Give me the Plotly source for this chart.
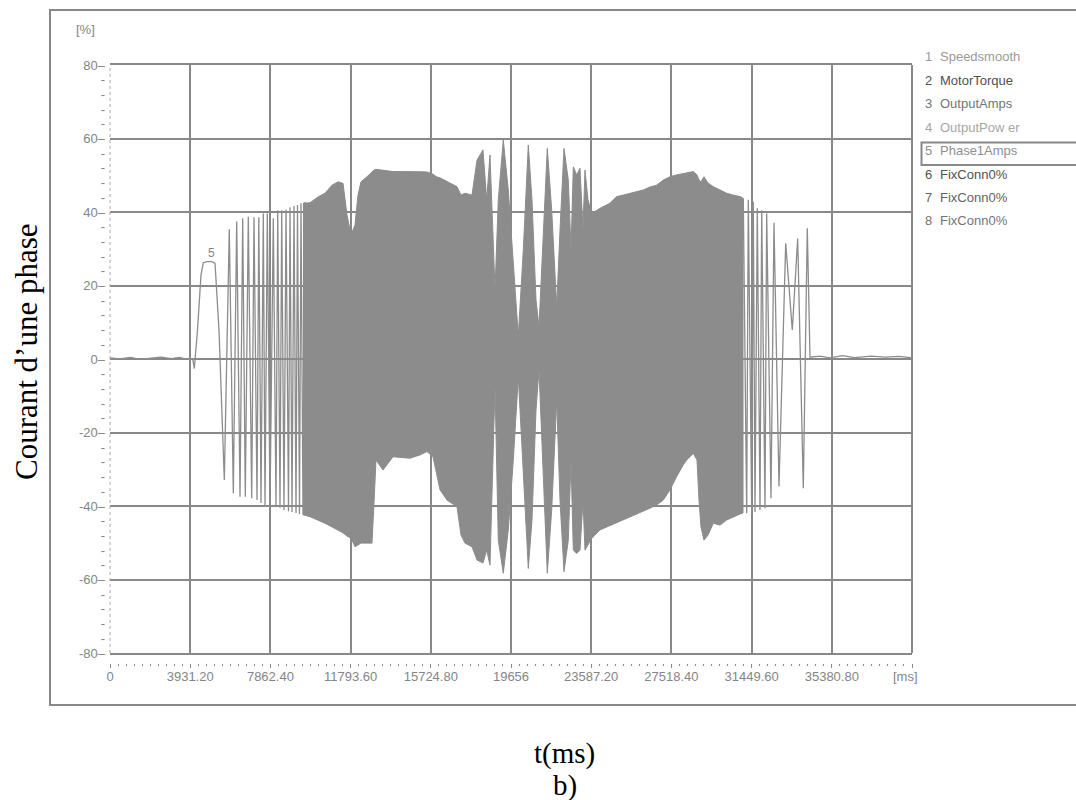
import plotly.graph_objects as go

# ---------------- data ----------------
X_MAX = 39312.0
x_tick_vals = [0, 3931.2, 7862.4, 11793.6, 15724.8, 19656, 23587.2, 27518.4, 31449.6, 35380.8, 39312]
x_tick_text = ["0", "3931.20", "7862.40", "11793.60", "15724.80", "19656",
               "23587.20", "27518.40", "31449.60", "35380.80", ""]
x_unit = "[ms]"
y_unit = "[%]"
y_major_vals = [-80, -60, -40, -20, 0, 20, 40, 60, 80]
y_major_text = ["-80", "-60", "-40", "-20", "0", "20", "40", "60", "80"]

legend_nums = ["1", "2", "3", "4", "5", "6", "7", "8"]
legend_names = ["Speedsmooth", "MotorTorque", "OutputAmps", "OutputPow er",
                "Phase1Amps", "FixConn0%", "FixConn0%", "FixConn0%"]
legend_colors = ["#9a9a9a", "#505050", "#747474", "#a6a6a6",
                 "#8e8e8e", "#505050", "#626262", "#747474"]

# sparse start of the signal (extrema), time in ms, value in %
left_t = [0, 500, 1000, 1500, 2000, 2500, 3000, 3400, 3700, 4054,
          4132, 4289, 4461, 4574, 4755, 4985, 5147, 5343,
          5603, 5848, 6044, 6211, 6373, 6505, 6632, 6779, 6946, 7059,
          7206, 7294, 7402, 7515, 7598, 7711, 7843, 8005, 8137, 8221,
          8333, 8417, 8529, 8628, 8750, 8824, 8922, 9020, 9118, 9191,
          9289, 9363, 9461, 9559]
left_v = [0.3, 0.0, 0.4, -0.1, 0.2, 0.5, 0.1, 0.4, 0.0, 0.0,
          -2.6, 7.9, 22.9, 26.2, 26.5, 26.5, 26.1, 7.9,
          -32.9, 35.3, -36.5, 37.4, -37.5, 38.3, -37.5, 38.7, -37.9, 38.6,
          -38.4, 38.6, -39.2, 39.6, -39.7, 39.6, -39.7, 38.3, -39.7, 40.5,
          -40.5, 40.5, -41.1, 40.7, -41.4, 41.3, -41.6, 41.6, -41.9, 41.9,
          -42.2, 42.4, -42.4, 42.7]

# dense part: upper and lower envelope of the oscillation
dense_t = [9460, 9803, 10196, 10539, 10882, 11176, 11421, 11617, 11813, 12009,
           12156, 12303, 12597, 12842, 12940, 13039, 13382, 13872, 14705, 15195,
           15538, 15832, 16029, 16176, 16519, 17009, 17205, 17401, 17744, 17989,
           18283, 18465, 18626, 18872, 19033, 19278, 19523, 19769, 20014, 20259,
           20504, 20685, 20881, 21028, 21239, 21435, 21651, 21896, 22058, 22254,
           22464, 22597, 22710, 22876, 23038, 23185, 23283, 23430, 23612, 24018,
           24509, 24837, 25161, 25489, 25817, 26141, 26469, 26798, 27121, 27450,
           27778, 28101, 28268, 28592, 28773, 28871, 28969, 29116, 29312, 29572,
           29900, 30229, 30552, 30881, 31028]
dense_up = [42.4, 42.5, 44.1, 45.1, 47.3, 48.2, 47.8, 39.2, 33.8, 36.5,
            44.6, 48.2, 49.6, 50.9, 51.4, 51.6, 51.4, 51.0, 51.0, 51.0,
            50.9, 50.3, 49.5, 49.3, 48.4, 46.9, 44.6, 45.1, 44.6, 54.1,
            56.9, 43.3, 55.5, 18.8, 43.3, 59.6, 46.0, 26.9, 6.3, 29.7,
            58.2, 43.3, 16.1, 8.7, 32.4, 57.3, 40.5, 14.2, 35.1, 57.3,
            48.7, 29.7, 52.3, 50.1, 51.9, 35.1, 51.4, 43.3, 39.6, 41.0,
            42.4, 44.2, 44.6, 45.1, 45.7, 46.0, 46.8, 47.3, 48.7, 49.6,
            50.1, 50.5, 50.7, 51.0, 50.1, 48.7, 48.2, 49.6, 47.9, 46.9,
            46.0, 45.1, 44.6, 44.2, 43.8]
dense_lo = [-42.4, -42.9, -43.8, -44.7, -45.7, -46.5, -47.3, -48.2, -48.7, -51.1,
            -50.6, -50.1, -50.1, -50.1, -39.2, -27.5, -30.2, -26.6, -27.0, -26.1,
            -25.2, -26.6, -31.6, -35.6, -38.4, -40.2, -47.9, -50.1, -51.1, -54.7,
            -55.5, -52.0, -56.1, -7.3, -49.3, -58.3, -46.5, -27.5, -4.9, -30.2,
            -57.0, -43.8, -13.9, -3.0, -32.9, -58.3, -41.1, -11.2, -38.4, -57.9,
            -49.3, -27.5, -52.0, -52.9, -52.0, -38.4, -52.0, -50.6, -48.8, -46.5,
            -45.2, -44.4, -43.8, -43.0, -42.0, -41.4, -40.6, -39.7, -38.4, -35.6,
            -32.0, -28.8, -27.5, -25.7, -27.5, -38.4, -45.7, -49.3, -47.9, -44.7,
            -45.2, -43.8, -42.9, -42.2, -41.9]

# sparse end of the signal (extrema)
right_t = [31042, 31209, 31288, 31454, 31533, 31616, 31729, 31861, 31945, 32106,
           32189, 32400, 32547, 32792, 33121, 33444, 33709, 33984, 34179, 34312,
           34800, 35300, 35900, 36500, 37300, 38000, 38700, 39312]
right_v = [43.7, -42.0, 43.3, -41.6, 42.8, -41.6, 41.0, -41.1, 40.5, -40.6,
           39.6, -37.9, 37.1, -34.7, 31.5, 7.9, 32.8, -35.2, 35.6, 0.5,
           0.8, 0.3, 0.9, 0.4, 0.8, 0.5, 0.7, 0.3]

# ---------------- layout helpers ----------------
W, H = 1076, 800
L, R, T, B = 110, 164, 65, 137
PW, PH = W - L - R, H - T - B
PLOT_BOTTOM = 653
Y_DOM0 = (H - B - PLOT_BOTTOM) / PH


def px_x(px):
    return (px - L) / PW


def px_y(py):
    return (H - B - py) / PH


SIG = "#8c8c8c"
GRID = "#888888"
TXT = "#858585"
SANS = "Liberation Sans, Arial, sans-serif"
SERIF = "Liberation Serif, Times New Roman, serif"

fig = go.Figure()

fig.add_trace(go.Scatter(
    x=dense_t + dense_t[::-1], y=dense_up + dense_lo[::-1],
    mode="lines", fill="toself", fillcolor=SIG,
    line=dict(color=SIG, width=1), hoverinfo="skip", showlegend=False))
fig.add_trace(go.Scatter(x=left_t, y=left_v, mode="lines",
                         line=dict(color=SIG, width=1.3), showlegend=False))
fig.add_trace(go.Scatter(x=right_t, y=right_v, mode="lines",
                         line=dict(color=SIG, width=1.3), showlegend=False))
# invisible trace to carry the label axes
fig.add_trace(go.Scatter(x=[0], y=[0], xaxis="x2", yaxis="y2", mode="markers",
                         marker=dict(opacity=0), hoverinfo="skip", showlegend=False))

y_all_vals = []
y_all_text = []
for i, v in enumerate(y_major_vals):
    y_all_vals.append(v)
    y_all_text.append(y_major_text[i] + "–")
    if i < len(y_major_vals) - 1:
        step = (y_major_vals[i + 1] - v) / 5
        for k in range(1, 5):
            y_all_vals.append(v + k * step)
            y_all_text.append("-")

x_minor = []
for i in range(len(x_tick_vals) - 1):
    step = (x_tick_vals[i + 1] - x_tick_vals[i]) / 10
    for k in range(1, 10):
        x_minor.append(x_tick_vals[i] + k * step)

fig.update_layout(
    width=W, height=H,
    margin=dict(l=L, r=R, t=T, b=B, pad=0),
    paper_bgcolor="white", plot_bgcolor="white",
    font=dict(family=SANS, color=TXT, size=13),
    showlegend=False,
    xaxis=dict(range=[0, X_MAX], tickvals=x_tick_vals[1:-1], showticklabels=False,
               ticks="", showgrid=True, gridcolor=GRID, gridwidth=1.5,
               zeroline=False, showline=True, mirror=True, linecolor=GRID,
               linewidth=2),
    xaxis2=dict(overlaying="x", anchor="free", position=0, side="bottom",
                range=[0, X_MAX], tickvals=x_tick_vals, ticktext=x_tick_text,
                ticks="outside", ticklen=4, tickwidth=1, tickcolor=GRID,
                ticklabelstandoff=-3,
                showgrid=False, zeroline=False, showline=False,
                tickfont=dict(size=13, color=TXT, family=SANS),
                minor=dict(tickvals=x_minor, ticks="outside", ticklen=2,
                           tickwidth=1, tickcolor=GRID, showgrid=False)),
    yaxis=dict(domain=[Y_DOM0, 1], range=[-80, 80], tickvals=y_major_vals,
               showticklabels=False, ticks="", showgrid=True, gridcolor=GRID,
               gridwidth=1.5, zeroline=False, showline=False),
    yaxis2=dict(overlaying="y", side="left", anchor="x", range=[-80, 80],
                tickvals=y_all_vals, ticktext=y_all_text, ticks="",
                showgrid=False, zeroline=False, showline=False,
                ticklabelstandoff=4,
                tickfont=dict(size=13, color=TXT, family=SANS)),
)

shapes = [
    dict(type="line", xref="paper", yref="paper", x0=1, x1=1, y0=Y_DOM0, y1=1,
         line=dict(color=GRID, width=2)),
    dict(type="line", xref="paper", yref="paper", x0=0, x1=0, y0=Y_DOM0, y1=1,
         line=dict(color="#aaaaaa", width=1, dash="dot")),
    dict(type="rect", xref="paper", yref="paper", x0=px_x(50), x1=px_x(1100),
         y0=px_y(705), y1=px_y(10), line=dict(color=GRID, width=2)),
    dict(type="rect", xref="paper", yref="paper", x0=px_x(921.5), x1=px_x(1100),
         y0=px_y(165), y1=px_y(142.5), line=dict(color=GRID, width=2)),
]
fig.update_layout(shapes=shapes)

ann = []
ann.append(dict(text=y_unit, xref="paper", yref="paper", x=px_x(85), y=px_y(29),
                showarrow=False, xanchor="center", yanchor="middle",
                font=dict(size=13, color=TXT)))
ann.append(dict(text=x_unit, xref="paper", yref="paper", x=px_x(905), y=px_y(676.5),
                showarrow=False, xanchor="center", yanchor="middle",
                font=dict(size=13, color=TXT)))
legend_y = [56.7, 80.3, 103.7, 127.3, 150.7, 174.2, 197.6, 220.5]
for i in range(len(legend_nums)):
    ann.append(dict(text=legend_nums[i], xref="paper", yref="paper",
                    x=px_x(923), y=px_y(legend_y[i]), showarrow=False,
                    xanchor="left", yanchor="middle",
                    font=dict(size=13, color=legend_colors[i])))
    ann.append(dict(text=legend_names[i], xref="paper", yref="paper",
                    x=px_x(938), y=px_y(legend_y[i]), showarrow=False,
                    xanchor="left", yanchor="middle",
                    font=dict(size=13, color=legend_colors[i])))
ann.append(dict(text="5", x=4985, y=26.5, xref="x", yref="y", showarrow=False,
                xanchor="center", yanchor="bottom", font=dict(size=12, color=TXT)))
ann.append(dict(text="Courant d’une phase", xref="paper", yref="paper",
                x=px_x(26), y=px_y(352), showarrow=False, textangle=-90,
                xanchor="center", yanchor="middle",
                font=dict(family=SERIF, size=31, color="black")))
ann.append(dict(text="t(ms)", xref="paper", yref="paper",
                x=px_x(564), y=px_y(753), showarrow=False,
                xanchor="center", yanchor="middle",
                font=dict(family=SERIF, size=29, color="black")))
ann.append(dict(text="b)", xref="paper", yref="paper",
                x=px_x(565), y=px_y(785), showarrow=False,
                xanchor="center", yanchor="middle",
                font=dict(family=SERIF, size=29, color="black")))
fig.update_layout(annotations=ann)

fig.write_html("out.html")
